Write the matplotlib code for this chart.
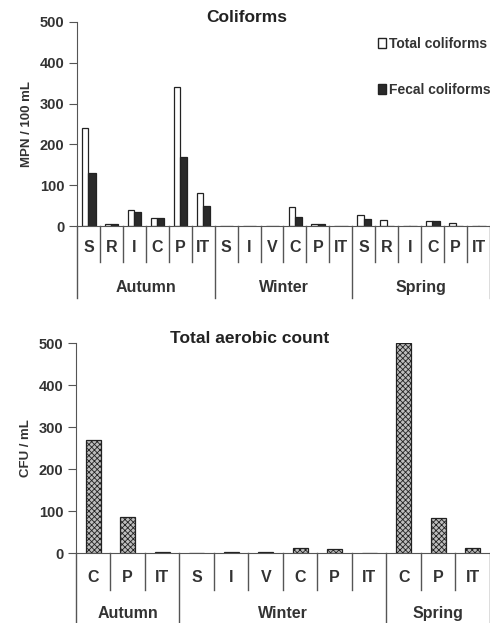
import numpy as np
import matplotlib.pyplot as plt
from matplotlib.patches import Patch

plt.rcParams['font.family'] = ['Liberation Sans', 'DejaVu Sans']
plt.rcParams['hatch.linewidth'] = 0.6

# coliforms (MPN / 100 mL)
coli_seasons = ['Autumn', 'Winter', 'Spring']
coli_sites = [['S', 'R', 'I', 'C', 'P', 'IT'],
              ['S', 'I', 'V', 'C', 'P', 'IT'],
              ['S', 'R', 'I', 'C', 'P', 'IT']]
total_coli = [240, 5, 40, 20, 340, 80,
              0, 0, 0, 48, 5, 0,
              28, 15, 0, 12, 7, 0]
fecal_coli = [130, 5, 35, 20, 170, 50,
              0, 0, 0, 22, 5, 0,
              18, 0, 0, 12, 0, 0]

# total aerobic count (CFU / mL)
tac_seasons = ['Autumn', 'Winter', 'Spring']
tac_sites = [['C', 'P', 'IT'],
             ['S', 'I', 'V', 'C', 'P', 'IT'],
             ['C', 'P', 'IT']]
tac = [270, 87, 3,
       0, 3, 2, 12, 10, 0,
       500, 85, 12]

LINE = '#555555'
TEXT = '#333333'


def draw_axis_labels(ax, seasons, sites, lab_y, sep_y, grp_y, grp_end):
    tr = ax.get_xaxis_transform()
    pos = 0
    edges = [0]
    for season, names in zip(seasons, sites):
        for k, name in enumerate(names):
            ax.text(pos + k + 0.5, lab_y, name, transform=tr, ha='center',
                    va='center', fontsize=11.5, fontweight='bold', color=TEXT)
            if k > 0:
                ax.plot([pos + k, pos + k], [0, sep_y], transform=tr,
                        color=LINE, lw=1, clip_on=False)
        ax.text(pos + len(names) / 2, grp_y, season, transform=tr,
                ha='center', va='center', fontsize=11.5, fontweight='bold',
                color=TEXT)
        pos += len(names)
        edges.append(pos)
    for e in edges:
        ax.plot([e, e], [0, grp_end], transform=tr, color=LINE, lw=1,
                clip_on=False)


def style_axis(ax, n):
    ax.set_xlim(0, n)
    ax.set_ylim(0, 500)
    ax.set_yticks(np.arange(0, 501, 100))
    ax.set_xticks([])
    for s in ['top', 'right']:
        ax.spines[s].set_visible(False)
    ax.spines['left'].set_color(LINE)
    ax.spines['bottom'].set_color(LINE)
    ax.tick_params(axis='y', labelsize=10.5, length=6, color=LINE,
                   labelcolor=TEXT, pad=3)
    for t in ax.get_yticklabels():
        t.set_fontweight('bold')


fig = plt.figure(figsize=(4.9, 6.23), dpi=100)

# top panel
ax1 = fig.add_axes([0.157, 0.637, 0.843, 0.328])
n1 = len(total_coli)
x1 = np.arange(n1) + 0.5
ax1.bar(x1 - 0.14, total_coli, width=0.28, color='white', edgecolor='#222222', lw=0.9)
ax1.bar(x1 + 0.15, fecal_coli, width=0.32, color='#2a2a2a', edgecolor='#222222', lw=0.9)
style_axis(ax1, n1)
ax1.set_ylabel('MPN / 100 mL', fontsize=9.5, fontweight='bold', color=TEXT, labelpad=5)
ax1.text(0.41, 1.02, 'Coliforms', transform=ax1.transAxes, ha='center',
         va='center', fontsize=12.5, fontweight='bold', color='#222222')
draw_axis_labels(ax1, coli_seasons, coli_sites, -0.103, -0.176, -0.30, -0.353)
handles = [Patch(facecolor='white', edgecolor='#222222', label='Total coliforms'),
           Patch(facecolor='#2a2a2a', edgecolor='#222222', label='Fecal coliforms')]
fig.legend(handles=handles, loc='upper left', bbox_to_anchor=(0.76, 0.95),
           frameon=False, handlelength=0.55, handleheight=0.7,
           handletextpad=0.25, labelspacing=2.3, borderaxespad=0,
           prop={'weight': 'bold', 'size': 10}, labelcolor=TEXT)

# bottom panel
ax2 = fig.add_axes([0.155, 0.112, 0.845, 0.337])
n2 = len(tac)
x2 = np.arange(n2) + 0.5
ax2.bar(x2, tac, width=0.43, color='#bdbdbd', edgecolor='#222222', lw=0.9,
        hatch='xxxxxx')
style_axis(ax2, n2)
ax2.set_ylabel('CFU / mL', fontsize=9.5, fontweight='bold', color=TEXT, labelpad=5)
ax2.text(0.42, 1.024, 'Total aerobic count', transform=ax2.transAxes, ha='center',
         va='center', fontsize=12.5, fontweight='bold', color='#222222')
draw_axis_labels(ax2, tac_seasons, tac_sites, -0.114, -0.176, -0.286, -0.34)

fig.savefig('out.png', dpi=100)
